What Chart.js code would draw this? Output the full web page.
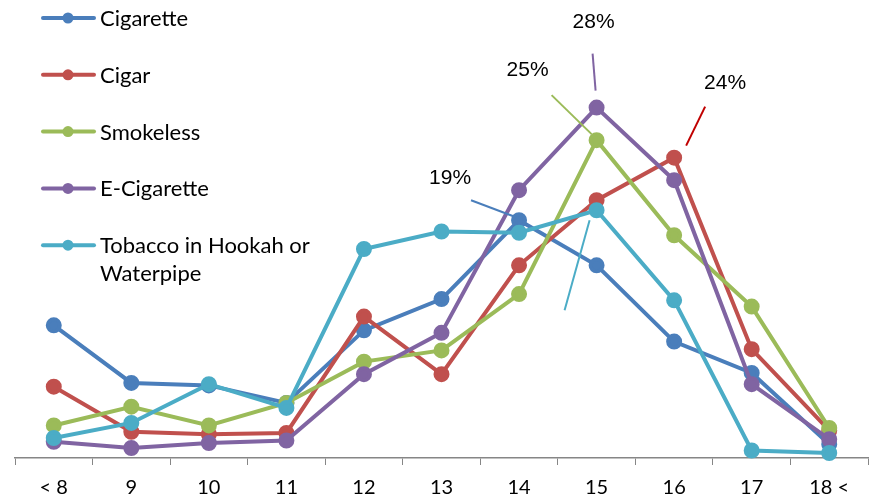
<!DOCTYPE html>
<html>
<head>
<meta charset="utf-8">
<script src="https://cdn.jsdelivr.net/npm/chart.js@4"></script>
<style>
  html, body { margin: 0; padding: 0; background: #fff; }
  #wrap { width: 873px; height: 497px; }
</style>
</head>
<body>
<div id="wrap"><canvas id="ageChart"></canvas></div>
<script>
// Age at first use, % per product
const ages = ['< 8', '9', '10', '11', '12', '13', '14', '15', '16', '17', '18 <'];
const cigarette = [10.6, 6.0, 5.8, 4.4, 10.2, 12.7, 19.0, 15.4, 9.3, 6.8, 1.1];
const cigar     = [5.7, 2.1, 1.9, 2.0, 11.3, 6.7, 15.4, 20.6, 24.0, 8.7, 2.2];
const smokeless = [2.6, 4.1, 2.6, 4.4, 7.7, 8.6, 13.1, 25.4, 17.8, 12.1, 2.4];
const ecig      = [1.3, 0.8, 1.2, 1.4, 6.7, 10.0, 21.4, 28.0, 22.2, 5.9, 1.5];
const hookah    = [1.6, 2.8, 5.9, 4.0, 16.7, 18.1, 18.0, 19.8, 12.6, 0.6, 0.4];

const seriesNames = ['Cigarette', 'Cigar', 'Smokeless', 'E-Cigarette', 'Tobacco in Hookah or|Waterpipe'];
const seriesColors = ['#4A7EBB', '#C0504D', '#9BBB59', '#8064A2', '#4BACC6'];
const seriesData = [cigarette, cigar, smokeless, ecig, hookah];

// callouts: series, category, leader line offsets, label offset
const callouts = [
  { s: 0, i: 6, text: '19%', line: [-48, -20, -3, -3], label: [-69, -42], color: '#4A7EBB' },
  { s: 2, i: 7, text: '25%', line: [-45, -45, -5, -6], label: [-69, -70], color: '#9BBB59' },
  { s: 3, i: 7, text: '28%', line: [-4, -54, -1, -17], label: [-3, -85], color: '#8064A2' },
  { s: 1, i: 8, text: '24%', line: [31, -51, 12, -12], label: [51, -74], color: '#C00000' },
  { s: 4, i: 7, text: '', line: [-7, 10, -32, 100], label: [0, 0], color: '#4BACC6' }
];

const datasets = seriesData.map((d, k) => ({
  label: seriesNames[k],
  data: d,
  borderColor: seriesColors[k],
  backgroundColor: seriesColors[k],
  borderWidth: 4,
  pointRadius: 6,
  pointHoverRadius: 6,
  tension: 0,
  clip: false,
  order: 5 - k
}));

const overlay = {
  id: 'overlay',
  afterDatasetsDraw(chart) {
    const ctx = chart.ctx;
    ctx.save();
    // callouts
    callouts.forEach(c => {
      const pt = chart.getDatasetMeta(c.s).data[c.i];
      ctx.strokeStyle = c.color;
      ctx.lineWidth = 2;
      ctx.beginPath();
      ctx.moveTo(pt.x + c.line[0], pt.y + c.line[1]);
      ctx.lineTo(pt.x + c.line[2], pt.y + c.line[3]);
      ctx.stroke();
      if (c.text) {
        ctx.fillStyle = '#000';
        ctx.font = '21px "Liberation Sans", Arial, sans-serif';
        ctx.textAlign = 'center';
        ctx.textBaseline = 'middle';
        ctx.fillText(c.text, pt.x + c.label[0], pt.y + c.label[1]);
      }
    });
    // legend
    ctx.font = '22px Lato, sans-serif';
    ctx.textAlign = 'left';
    ctx.textBaseline = 'middle';
    seriesNames.forEach((name, k) => {
      const y = 18 + k * 56.8;
      ctx.strokeStyle = seriesColors[k];
      ctx.lineWidth = 4;
      ctx.lineCap = 'round';
      ctx.beginPath();
      ctx.moveTo(43, y);
      ctx.lineTo(94, y);
      ctx.stroke();
      ctx.fillStyle = seriesColors[k];
      ctx.beginPath();
      ctx.arc(68, y, 5.5, 0, Math.PI * 2);
      ctx.fill();
      ctx.fillStyle = '#000';
      name.split('|').forEach((ln, j) => ctx.fillText(ln, 100, y + 1 + j * 28));
    });
    ctx.restore();
  }
};

new Chart(document.getElementById('ageChart'), {
  type: 'line',
  data: { labels: ages, datasets },
  options: {
    responsive: true,
    maintainAspectRatio: false,
    animation: false,
    layout: { autoPadding: false, padding: { left: 15, right: 5, top: 0, bottom: 0 } },
    plugins: { legend: { display: false }, tooltip: { enabled: false } },
    scales: {
      x: {
        offset: true,
        afterFit: s => { s.height = 39; },
        grid: { display: true, drawOnChartArea: false, drawTicks: true, tickLength: 7, offset: true, color: '#868686' },
        border: { color: '#868686', width: 1.5 },
        ticks: { color: '#000', font: { family: 'Lato', size: 20 }, padding: 11 }
      },
      y: { display: false, min: 0, max: 36.6 }
    }
  },
  plugins: [overlay]
});
</script>
</body>
</html>
